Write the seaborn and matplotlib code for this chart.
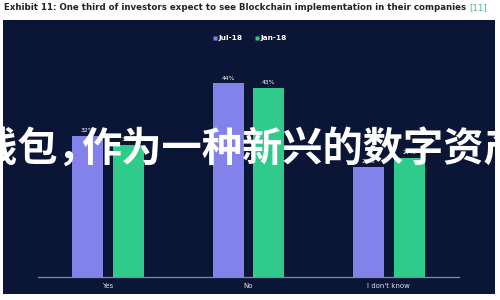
import matplotlib
matplotlib.use("Agg")
import matplotlib.pyplot as plt
import seaborn as sns
import pandas as pd
from matplotlib.patches import Rectangle
from matplotlib.lines import Line2D

categories = ["Yes", "No", "I don't know"]
periods = ["Jul-18", "Jan-18"]
jul18 = [32, 44, 25]
jan18 = [30, 43, 27]
title = "Exhibit 11: One third of investors expect to see Blockchain implementation in their companies"
ref = "[11]"
overlay1 = "钱包，"
overlay2 = "作为一种新兴的数字资产"

df = pd.DataFrame({
    "answer": categories * 2,
    "value": jul18 + jan18,
    "period": [periods[0]] * 3 + [periods[1]] * 3,
})

NAVY = "#0b1535"
PURPLE = "#8282ea"
GREEN = "#2ecb8a"

sns.set_theme(style="white")
plt.rcParams["font.family"] = ["DejaVu Sans"]

W, H = 500, 300
fig = plt.figure(figsize=(5, 3), dpi=100, facecolor="white")

# dark panel
fig.patches.append(Rectangle((3 / W, 1 - 294 / H), 492 / W, 274 / H,
                             transform=fig.transFigure, facecolor=NAVY,
                             edgecolor="none", zorder=-5))

ax = fig.add_axes([38 / W, 23 / H, 421 / W, 220 / H])
ax.set_zorder(2)
ax.set_facecolor("none")
sns.barplot(data=df, x="answer", y="value", hue="period",
            palette=[PURPLE, GREEN], width=0.58, gap=0.24,
            ax=ax, legend=False, saturation=1, linewidth=0, edgecolor="none")
ax.set_xlim(-0.5, 2.5)
ax.set_ylim(0, 50)
for c in ax.containers:
    ax.bar_label(c, fmt="%d%%", fontsize=4.4, color="white", padding=2)

for s in ["top", "right", "left"]:
    ax.spines[s].set_visible(False)
ax.spines["bottom"].set_color("#7f89a8")
ax.spines["bottom"].set_linewidth(0.9)
ax.set_yticks([])
ax.set_xlabel("")
ax.set_ylabel("")
ax.tick_params(axis="x", length=0, pad=4, labelsize=5, labelcolor="#dde1ec")

handles = [Line2D([], [], marker="s", linestyle="none", markersize=3.2,
                  markerfacecolor=col, markeredgecolor="none")
           for col in [PURPLE, GREEN]]
leg = fig.legend(handles, periods, loc="center", bbox_to_anchor=(0.5, 1 - 38 / H),
                 ncol=2, frameon=False, fontsize=5.3, handlelength=0.6,
                 handletextpad=0.2, columnspacing=1.6,
                 labelcolor="white")
for t in leg.get_texts():
    t.set_fontweight("bold")

t1 = fig.text(4 / W, 1 - 8 / H, title, fontsize=6.2, fontweight="bold",
              color="#222222", va="center", ha="left")
fig.canvas.draw()
bb = t1.get_window_extent()
fig.text((bb.x1 + 3) / W, 1 - 8 / H, ref, fontsize=6.2, color="#3fb8a0",
         va="center", ha="left")

cjk = ["Noto Sans CJK SC", "DejaVu Sans"]
ov = fig.add_axes([0, 0, 1, 1], zorder=10)
ov.set_axis_off()
ov.patch.set_alpha(0)
ov.text(-23 / W, 1 - 149 / H, overlay1, fontsize=29, fontweight="bold",
        color="white", va="center", ha="left", family=cjk,
        transform=fig.transFigure)
ov.text(81 / W, 1 - 149 / H, overlay2, fontsize=29, fontweight="bold",
        color="white", va="center", ha="left", family=cjk,
        transform=fig.transFigure)

fig.savefig("out.png", dpi=100, facecolor="white")
